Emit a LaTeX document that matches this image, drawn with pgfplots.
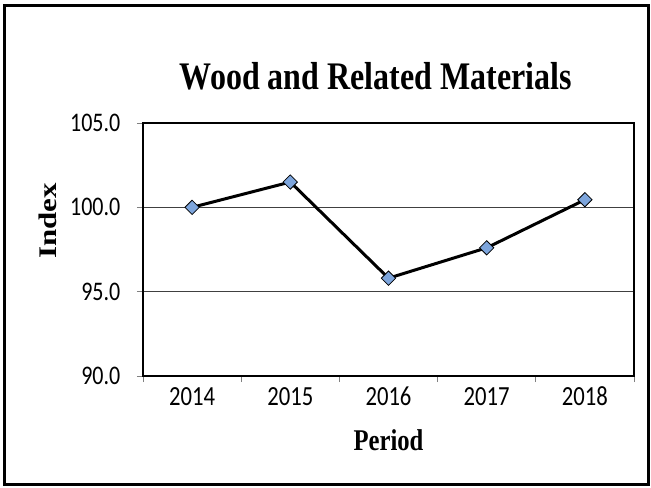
\documentclass[border=0pt]{standalone}
\usepackage{pgfplots}
\pgfplotsset{compat=1.18}
\usepackage{graphicx}
\usepackage{fontspec}
\setmainfont{Liberation Serif}
\newfontfamily\calib{Carlito}
\definecolor{mk}{RGB}{125,165,220}
\newcommand{\vs}[1]{\scalebox{1}[1.22]{#1}}
\begin{document}
\begin{tikzpicture}
\useasboundingbox (-107.25pt,-83.25pt) rectangle (381pt,282pt);
\draw[line width=2.25pt] (-103.5pt,-81pt) rectangle (378.75pt,278.25pt);
\begin{axis}[
  at={(0pt,0pt)}, anchor=south west,
  scale only axis, width=368.25pt, height=189.75pt,
  xmin=-0.5, xmax=4.5, ymin=90, ymax=105,
  xtick={0,1,2,3,4},
  xticklabels={\vs{2014},\vs{2015},\vs{2016},\vs{2017},\vs{2018}},
  minor xtick={-0.5,0.5,1.5,2.5,3.5,4.5},
  ytick={90,95,100,105},
  yticklabel={\vs{\pgfmathprintnumber{\tick}}},
  tick align=outside,
  major tick length=4.5pt, minor tick length=4.5pt,
  x tick style={draw=none},
  minor x tick style={draw=gray, line width=0.6pt},
  y tick style={draw=gray, line width=0.6pt},
  xtick pos=bottom, ytick pos=left,
  axis line style={line width=1.5pt, black},
  ymajorgrids, grid style={black!75, line width=0.6pt},
  /pgf/number format/fixed, /pgf/number format/fixed zerofill, /pgf/number format/precision=1,
  /pgf/number format/assume math mode=true,
  yticklabel style={font=\calib\fontsize{16.5}{18}\selectfont, xshift=-9pt},
  xticklabel style={font=\calib\fontsize{17}{19}\selectfont, text height=14pt, text depth=0pt, yshift=0pt},
  title={\vs{Wood and Related Materials}},
  title style={font=\fontsize{24}{28}\selectfont\bfseries, at={(axis description cs:0.4745,1.154)}, anchor=center},
  xlabel={\vs{Period}},
  xlabel style={font=\fontsize{18.5}{22}\selectfont\bfseries, at={(axis description cs:0.5,-0.253)}, anchor=center},
  ylabel={\scalebox{1.22}[1]{Index}},
  ylabel style={font=\fontsize{19}{22}\selectfont\bfseries, at={(axis description cs:-0.1935,0.613)}, anchor=center, rotate=0},
  clip=false,
]
\addplot[black, line width=2.25pt, mark=square*, mark size=3.8pt,
  mark options={fill=mk, draw=black, line width=0.6pt, rotate=45}]
  coordinates {(0,100.0) (1,101.5) (2,95.8) (3,97.6) (4,100.45)};
\end{axis}
\end{tikzpicture}
\end{document}
